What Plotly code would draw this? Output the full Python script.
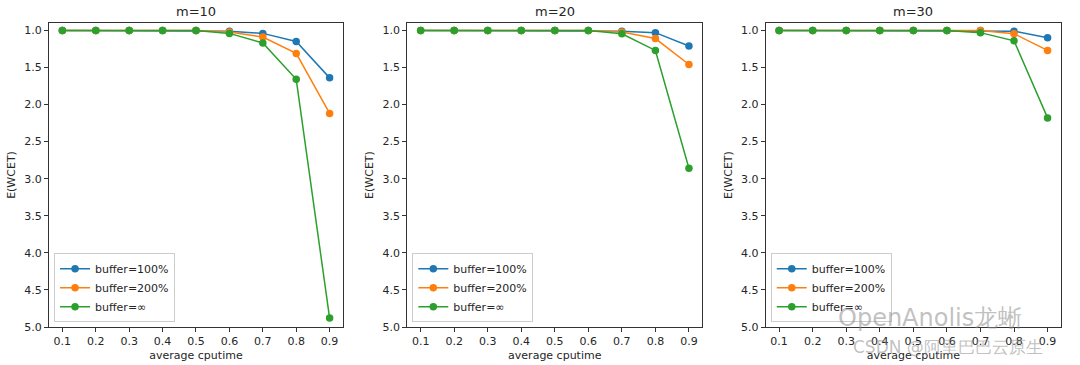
import plotly.graph_objects as go

x = [0.1, 0.2, 0.3, 0.4, 0.5, 0.6, 0.7, 0.8, 0.9]
titles = ["m=10", "m=20", "m=30"]
series_names = ["buffer=100%", "buffer=200%", "buffer=∞"]
colors = ["#1f77b4", "#ff7f0e", "#2ca02c"]

m10_b100 = [1.0, 1.0, 1.0, 1.0, 1.0, 1.01, 1.04, 1.15, 1.64]
m10_b200 = [1.0, 1.0, 1.0, 1.0, 1.0, 1.02, 1.09, 1.31, 2.12]
m10_binf = [1.0, 1.0, 1.0, 1.0, 1.0, 1.04, 1.17, 1.66, 4.88]

m20_b100 = [1.0, 1.0, 1.0, 1.0, 1.0, 1.0, 1.01, 1.03, 1.21]
m20_b200 = [1.0, 1.0, 1.0, 1.0, 1.0, 1.0, 1.02, 1.11, 1.46]
m20_binf = [1.0, 1.0, 1.0, 1.0, 1.0, 1.0, 1.045, 1.27, 2.86]

m30_b100 = [1.0, 1.0, 1.0, 1.0, 1.0, 1.0, 1.0, 1.01, 1.10]
m30_b200 = [1.0, 1.0, 1.0, 1.0, 1.0, 1.0, 1.0, 1.045, 1.27]
m30_binf = [1.0, 1.0, 1.0, 1.0, 1.0, 1.0, 1.03, 1.14, 2.18]

panels = [
    [m10_b100, m10_b200, m10_binf],
    [m20_b100, m20_b200, m20_binf],
    [m30_b100, m30_b200, m30_binf],
]

y_ticks = [1.0, 1.5, 2.0, 2.5, 3.0, 3.5, 4.0, 4.5, 5.0]

domains = [[0.0, 0.2905], [0.354, 0.6456], [0.7082, 1.0]]
FONT = "DejaVu Sans"
TXT = "#262626"
PLOT_W = 1012
PLOT_H = 304

fig = go.Figure()
legend_names = ["legend", "legend2", "legend3"]
for i, panel in enumerate(panels):
    xa = "x" if i == 0 else f"x{i+1}"
    ya = "y" if i == 0 else f"y{i+1}"
    for j, ys in enumerate(panel):
        fig.add_trace(go.Scatter(
            x=x, y=ys, mode="lines+markers", name=series_names[j],
            line=dict(color=colors[j], width=1.5),
            marker=dict(color=colors[j], size=7.5),
            xaxis=xa, yaxis=ya, legend=legend_names[i], showlegend=True,
        ))

layout = dict(
    width=1080, height=365,
    margin=dict(l=49, r=19, t=23, b=38, autoexpand=False),
    paper_bgcolor="white", plot_bgcolor="white",
    font=dict(family=FONT, size=11, color=TXT),
    showlegend=True,
)

axis_common = dict(
    showline=True, linecolor="#333333", linewidth=1, mirror=True,
    ticks="outside", ticklen=4, tickcolor="#333333", showgrid=False,
    zeroline=False, tickfont=dict(family=FONT, size=11, color=TXT),
    automargin=False,
)

annotations = []
for i in range(3):
    sx = "" if i == 0 else str(i + 1)
    layout[f"xaxis{sx}"] = dict(
        axis_common, domain=domains[i], range=[0.06, 0.94],
        tickvals=x, ticktext=[f"{v:.1f}" for v in x],
        anchor=f"y{sx}",
        title=dict(text="average cputime", font=dict(size=11, color=TXT), standoff=4),
    )
    layout[f"yaxis{sx}"] = dict(
        axis_common, domain=[0, 1], range=[5.0, 0.9],
        tickvals=y_ticks, ticktext=[f"{v:.1f}" for v in y_ticks],
        anchor=f"x{sx}",
        title=dict(text="E(WCET)", font=dict(size=11, color=TXT), standoff=6),
    )
    annotations.append(dict(
        text=titles[i], x=(domains[i][0] + domains[i][1]) / 2, y=1.0,
        xref="paper", yref="paper", xanchor="center", yanchor="bottom",
        yshift=2, showarrow=False, font=dict(size=13, color=TXT),
    ))
    layout[legend_names[i]] = dict(
        x=domains[i][0] + 0.005, y=0.016, xanchor="left", yanchor="bottom",
        xref="paper", yref="paper",
        bgcolor="rgba(255,255,255,0.8)", bordercolor="#cccccc", borderwidth=1,
        font=dict(size=11, color=TXT), itemwidth=30, tracegroupgap=0,
    )

annotations.append(dict(
    text="OpenAnolis龙蜥", x=(930 - 49) / PLOT_W, y=(327 - 318) / PLOT_H,
    xref="paper", yref="paper", xanchor="center", yanchor="middle",
    showarrow=False, font=dict(size=24, color="rgba(140,140,140,0.55)"),
))
annotations.append(dict(
    text="CSDN @阿里巴巴云原生", x=(948 - 49) / PLOT_W, y=(327 - 347) / PLOT_H,
    xref="paper", yref="paper", xanchor="center", yanchor="middle",
    showarrow=False, font=dict(size=17, color="rgba(140,140,140,0.55)"),
))
layout["annotations"] = annotations
fig.update_layout(**layout)

fig.write_html(
    "out.html",
    config={"displayModeBar": False},
    post_script="document.body.style.margin='0px';",
)
